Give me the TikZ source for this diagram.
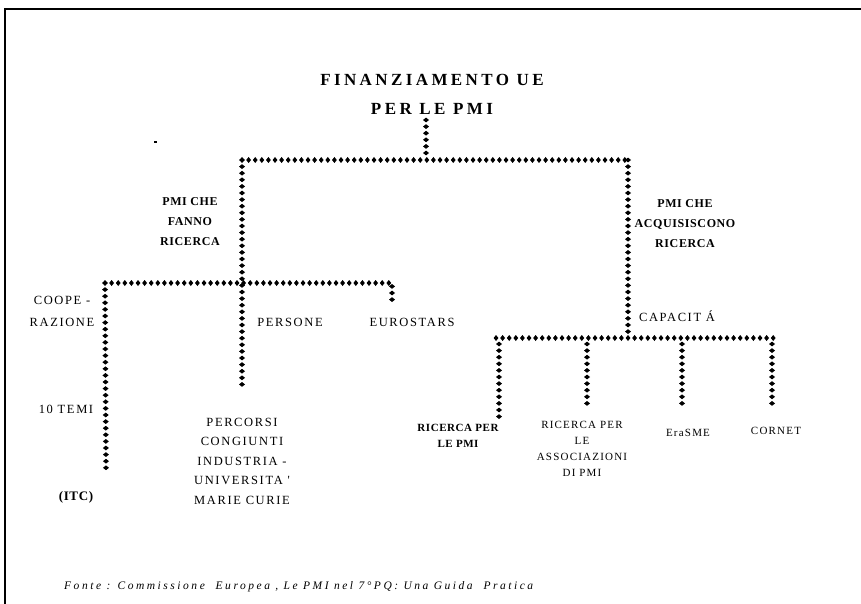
\documentclass[tikz,border=0pt]{standalone}
\usepackage{fontspec}
\setmainfont{Liberation Serif}
\newfontfamily\spaced[LetterSpace=13]{Liberation Serif}
\newfontfamily\smallsp[LetterSpace=11]{Liberation Serif}
\newfontfamily\boldsp[LetterSpace=5]{Liberation Serif}
\newfontfamily\titlesp[LetterSpace=20]{Liberation Serif}
\newfontfamily\notesp[LetterSpace=22]{Liberation Serif}
\usetikzlibrary{decorations.markings}
\tikzset{
  dots/.style={postaction={decorate}, decoration={markings,
    mark=between positions 0 and 1 step 6.6pt with {\fill[black] (0,3pt)--(2.4pt,0)--(0,-3pt)--(-2.4pt,0)--cycle;}}},
  lbl/.style={font=\fontsize{12.5}{19.5}\spaced, align=center, inner sep=0pt},
  lblsm/.style={font=\fontsize{11}{16}\smallsp, align=center, inner sep=0pt},
  blbl/.style={font=\fontsize{12}{20}\boldsp\bfseries, align=center, inner sep=0pt},
  titlebox/.style={font=\fontsize{17}{29}\titlesp\bfseries, align=center, inner sep=0pt},
  frame/.style={line width=1.6pt, black},
}
\begin{document}
\begin{tikzpicture}[x=1pt, y=-1pt]
\useasboundingbox (0,0) rectangle (861,604);
% frame
\draw[frame] (5,604) -- (5,9) -- (861,9);
\fill[black] (154,141) rectangle (157,143);

% title
\node[titlebox] (title) at (432,94) {FINANZIAMENTO UE\\PER LE PMI};

% coordinates of the tree
\coordinate (tstem) at (426,120);
\coordinate (j0) at (426,158);
\coordinate (jl) at (242,160);
\coordinate (jr) at (628,160);
\coordinate (h2l) at (105,283);
\coordinate (h2r) at (392,283);
\coordinate (h2e) at (392,302);
\coordinate (lend) at (242,387);
\coordinate (cend) at (106,470);
\coordinate (j3) at (628,338);
\coordinate (h3l) at (496,338);
\coordinate (h3r) at (774,338);
\coordinate (v1) at (499,344);
\coordinate (v1e) at (499,418);
\coordinate (v2) at (587,344);
\coordinate (v2e) at (587,410);
\coordinate (v3) at (682,344);
\coordinate (v3e) at (682,410);
\coordinate (v4) at (772,344);
\coordinate (v4e) at (772,410);

\path[dots] (tstem) -- (j0);
\path[dots] (jl) -- (jr);
\path[dots] (jl) -- (lend);
\path[dots] (h2l) -- (h2r) -- (h2e);
\path[dots] (h2l) -- (cend);
\path[dots] (jr) -- (j3);
\path[dots] (h3l) -- (h3r);
\path[dots] (v1) -- (v1e);
\path[dots] (v2) -- (v2e);
\path[dots] (v3) -- (v3e);
\path[dots] (v4) -- (v4e);

% labels
\node[blbl] (fanno) at (190,222) {PMI CHE\\FANNO\\RICERCA};
\node[blbl] (acq) at (685,224) {PMI CHE\\ACQUISISCONO\\RICERCA};
\node[lbl, font=\fontsize{12.5}{22}\spaced] (coop) at (62,311) {COOPE -\\RAZIONE};
\node[lbl] (pers) at (290,322) {PERSONE};
\node[lbl] (euro) at (412,322) {EUROSTARS};
\node[lbl] (cap) at (677,316) {CAPACIT Á};
\node[lbl] (temi) at (66,409) {10 TEMI};
\node[blbl, font=\fontsize{13}{16}\boldsp\bfseries] (itc) at (76,497) {(ITC)};
\node[lbl] (perc) at (242,461) {PERCORSI\\CONGIUNTI\\INDUSTRIA -\\UNIVERSITA '\\MARIE CURIE};
\node[lblsm, font=\fontsize{11}{16}\boldsp\bfseries] (rpmi) at (458,436) {RICERCA PER\\LE PMI};
\node[lblsm] (rass) at (582,449) {RICERCA PER\\LE\\ASSOCIAZIONI\\DI PMI};
\node[lblsm] (erasme) at (688,433) {EraSME};
\node[lblsm] (cornet) at (776,431) {CORNET};

\node[anchor=west, inner sep=0pt, font=\fontsize{11.5}{12}\notesp\itshape] (fonte) at (64,587) {Fonte : Commissione \ Europea , Le PMI nel 7°PQ: Una Guida \ Pratica};
\end{tikzpicture}
\end{document}
